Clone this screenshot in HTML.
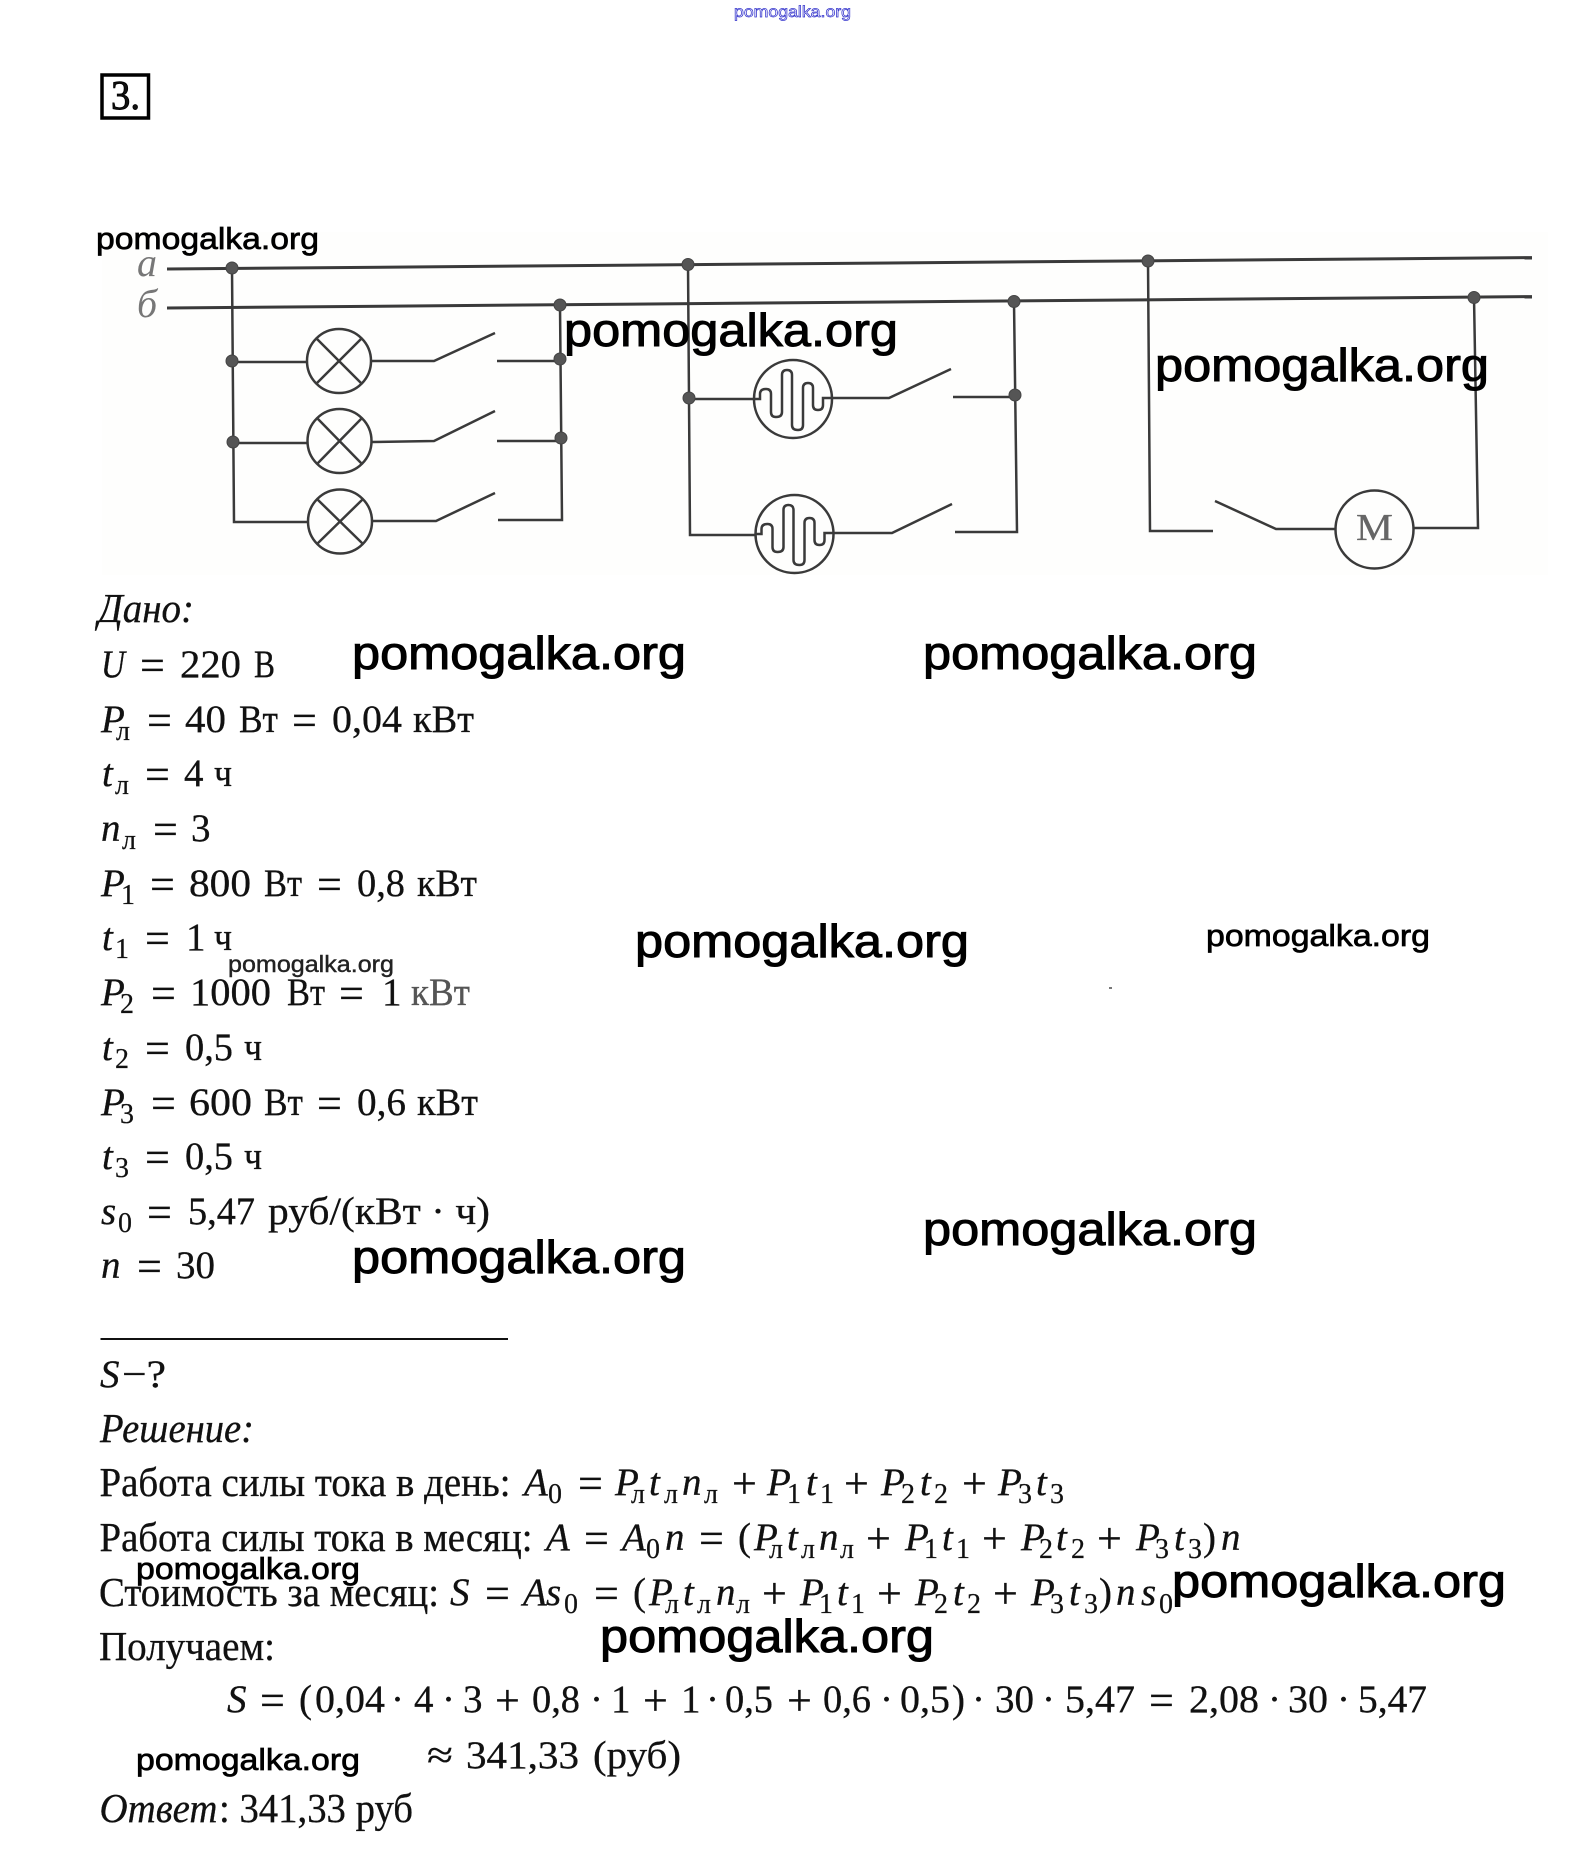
<!DOCTYPE html>
<html lang="ru"><head><meta charset="utf-8"><title>Задача 3</title>
<style>
html,body{margin:0;padding:0;background:#fff;width:1582px;height:1869px;overflow:hidden}
svg{display:block}
text{font-family:"Liberation Serif",serif;font-size:39px;fill:#111;stroke:#111;stroke-width:.3px}
.i{font-style:italic}
.s{font-size:28px;stroke-width:.2px}
.o{font-size:44px}
.t{font-size:41px}
.w{font-family:"Liberation Sans",sans-serif;font-size:46px;fill:#000;stroke:#000;stroke-width:1px}
.w2{font-size:31px;stroke-width:.7px}
.w3{font-size:23px;fill:#222;stroke:#222;stroke-width:.4px}
.w4{font-size:16px;fill:#fff;stroke:#33c;stroke-width:.7px}
.c{fill:none;stroke:#3a3a3a;stroke-width:2.5}
.n{fill:#555;stroke:#444;stroke-width:1}
.l{fill:#777;stroke:none;font-size:40px;font-style:italic}
</style></head><body>
<svg xmlns="http://www.w3.org/2000/svg" width="1582" height="1869" viewBox="0 0 1582 1869">
<rect width="1582" height="1869" fill="#fff"/>
<rect x="102" y="232" width="1446" height="343" fill="#fefefd"/>

<!-- box -->
<rect x="102" y="75" width="46.5" height="43" fill="none" stroke="#000" stroke-width="3.5"/>
<text x="111" y="109" style="font-size:41px;stroke-width:.9px;stroke:#000" textLength="29" lengthAdjust="spacingAndGlyphs">3.</text>

<!-- circuit -->
<text class="l" x="137" y="276">a</text>
<text class="l" x="137" y="317">б</text>
<g class="c">
<path d="M167 269L1532 257.6" stroke-width="3"/>
<path d="M167 308L1532 296.6" stroke-width="3"/>
<path d="M232 268L234 522H308"/>
<path d="M232 362H307M233 443H307"/>
<path d="M560 305L562 520H498M497 361H560M497 441H561"/>
<path d="M372 361H434L495 333M372 442L434 441L495 411M373 521H436L495 493"/>
<path d="M688 264L690 535H755M689 399H754"/>
<path d="M1014 302L1017 532H955M953 397H1015"/>
<path d="M832 398H889L951 369M834 533H892L952 504"/>
<path d="M1148 261L1150 531H1213M1215 501L1276 529H1336M1413 528H1478L1474 297"/>
<circle cx="339" cy="361" r="32"/><path d="M316 338L362 384M362 338L316 384"/>
<circle cx="339.5" cy="441" r="32"/><path d="M317 418L362 464M362 418L317 464"/>
<circle cx="340" cy="521.5" r="32"/><path d="M317 499L363 544M363 499L317 544"/>
<circle cx="793" cy="399" r="39"/>
<path id="h" d="M754 399H760V394Q760 389 766 389Q771 389 771 394V412Q771 417 776 417Q782 417 782 412V375Q782 370 787 370Q792 370 792 375V425Q792 430 798 430Q803 430 803 425V388Q803 383 808 383Q813 383 813 388V405Q813 410 818 410Q823 410 823 405V398H832"/>
<circle cx="794.5" cy="534" r="39"/>
<path d="M755.5 534H761.5V529Q761.5 524 767.5 524Q772.5 524 772.5 529V547Q772.5 552 777.5 552Q783.5 552 783.5 547V510Q783.5 505 788.5 505Q793.5 505 793.5 510V560Q793.5 565 799.5 565Q804.5 565 804.5 560V523Q804.5 518 809.5 518Q814.5 518 814.5 523V540Q814.5 545 819.5 545Q824.5 545 824.5 540V533H833.5"/>
<circle cx="1374.5" cy="529.5" r="39"/>
</g>
<text x="1356" y="540" style="font-size:38px;fill:#666;stroke:#666" textLength="37" lengthAdjust="spacingAndGlyphs">M</text>
<g class="n">
<circle cx="232" cy="268" r="6"/><circle cx="688" cy="264.5" r="6"/><circle cx="1148" cy="261" r="6"/>
<circle cx="560" cy="305" r="6"/><circle cx="1014" cy="301.5" r="6"/><circle cx="1474" cy="297.5" r="6"/>
<circle cx="232" cy="361" r="6"/><circle cx="233" cy="442" r="6"/><circle cx="560" cy="359" r="6"/><circle cx="561" cy="438" r="6"/>
<circle cx="689" cy="398" r="6"/><circle cx="1015" cy="395" r="6"/>
</g>

<!-- Дано -->
<text class="i t" x="98" y="622" textLength="96" lengthAdjust="spacingAndGlyphs">Дано:</text>

<text class="i" x="101" y="677" textLength="24" lengthAdjust="spacingAndGlyphs">U</text><text class="o" x="140" y="680">=</text><text x="180" y="677" textLength="61" lengthAdjust="spacingAndGlyphs">220</text><text x="254" y="677" textLength="21" lengthAdjust="spacingAndGlyphs">В</text>

<text class="i" x="101" y="732">P</text><text class="s" x="116" y="740">л</text><text class="o" x="147" y="735">=</text><text x="185" y="732" textLength="41" lengthAdjust="spacingAndGlyphs">40</text><text x="239" y="732" textLength="39" lengthAdjust="spacingAndGlyphs">Вт</text><text class="o" x="292" y="735">=</text><text x="332" y="732" textLength="70" lengthAdjust="spacingAndGlyphs">0,04</text><text x="413" y="732" textLength="61" lengthAdjust="spacingAndGlyphs">кВт</text>

<text class="i" x="102" y="786">t</text><text class="s" x="115" y="794">л</text><text class="o" x="145" y="789">=</text><text x="184" y="786">4</text><text x="214" y="786" textLength="18" lengthAdjust="spacingAndGlyphs">ч</text>

<text class="i" x="101" y="841">n</text><text class="s" x="122" y="849">л</text><text class="o" x="153" y="844">=</text><text x="191" y="841">3</text>

<text class="i" x="101" y="896">P</text><text class="s" x="121" y="904">1</text><text class="o" x="150" y="899">=</text><text x="189" y="896" textLength="62" lengthAdjust="spacingAndGlyphs">800</text><text x="264" y="896" textLength="38" lengthAdjust="spacingAndGlyphs">Вт</text><text class="o" x="317" y="899">=</text><text x="357" y="896" textLength="48" lengthAdjust="spacingAndGlyphs">0,8</text><text x="417" y="896" textLength="60" lengthAdjust="spacingAndGlyphs">кВт</text>

<text class="i" x="102" y="950">t</text><text class="s" x="115" y="958">1</text><text class="o" x="145" y="953">=</text><text x="186" y="950">1</text><text x="214" y="950" textLength="18" lengthAdjust="spacingAndGlyphs">ч</text>

<text class="i" x="101" y="1005">P</text><text class="s" x="120" y="1013">2</text><text class="o" x="151" y="1008">=</text><text x="190" y="1005" textLength="81" lengthAdjust="spacingAndGlyphs">1000</text><text x="287" y="1005" textLength="38" lengthAdjust="spacingAndGlyphs">Вт</text><text class="o" x="339" y="1008">=</text><text x="382" y="1005">1</text><text x="411" y="1005" textLength="59" lengthAdjust="spacingAndGlyphs" style="fill:#555;stroke:#555">кВт</text>

<text class="i" x="102" y="1060">t</text><text class="s" x="115" y="1068">2</text><text class="o" x="145" y="1063">=</text><text x="185" y="1060" textLength="48" lengthAdjust="spacingAndGlyphs">0,5</text><text x="244" y="1060" textLength="18" lengthAdjust="spacingAndGlyphs">ч</text>

<text class="i" x="101" y="1115">P</text><text class="s" x="120" y="1123">3</text><text class="o" x="151" y="1118">=</text><text x="189" y="1115" textLength="63" lengthAdjust="spacingAndGlyphs">600</text><text x="264" y="1115" textLength="39" lengthAdjust="spacingAndGlyphs">Вт</text><text class="o" x="317" y="1118">=</text><text x="357" y="1115" textLength="49" lengthAdjust="spacingAndGlyphs">0,6</text><text x="417" y="1115" textLength="61" lengthAdjust="spacingAndGlyphs">кВт</text>

<text class="i" x="102" y="1169">t</text><text class="s" x="115" y="1177">3</text><text class="o" x="145" y="1172">=</text><text x="185" y="1169" textLength="48" lengthAdjust="spacingAndGlyphs">0,5</text><text x="244" y="1169" textLength="18" lengthAdjust="spacingAndGlyphs">ч</text>

<text class="i" x="101" y="1224">s</text><text class="s" x="118" y="1232">0</text><text class="o" x="147" y="1227">=</text><text x="188" y="1224" textLength="67" lengthAdjust="spacingAndGlyphs">5,47</text><text x="268" y="1224" textLength="222" lengthAdjust="spacingAndGlyphs">руб/(кВт · ч)</text>

<text class="i" x="101" y="1278">n</text><text class="o" x="137" y="1281">=</text><text x="176" y="1278" textLength="39" lengthAdjust="spacingAndGlyphs">30</text>

<rect x="100.5" y="1338" width="407.5" height="2" fill="#111"/>

<text class="i" x="100" y="1387">S</text><text x="122" y="1387" textLength="44" lengthAdjust="spacingAndGlyphs">−?</text>
<text class="i t" x="100" y="1442" textLength="154" lengthAdjust="spacingAndGlyphs">Решение:</text>

<!-- line 1 -->
<text class="t" x="99.5" y="1496" textLength="411" lengthAdjust="spacingAndGlyphs">Работа силы тока в день:</text>
<text class="i" x="524" y="1495">A</text><text class="s" x="548" y="1503">0</text><text class="o" x="578" y="1498">=</text>
<text class="i" x="615" y="1495">P</text><text class="s" x="631" y="1503">л</text><text class="i" x="649" y="1495">t</text><text class="s" x="664" y="1503">л</text><text class="i" x="682" y="1495">n</text><text class="s" x="704" y="1503">л</text><text class="o" x="732" y="1498">+</text>
<text class="i" x="767" y="1495">P</text><text class="s" x="787" y="1503">1</text><text class="i" x="806" y="1495">t</text><text class="s" x="820" y="1503">1</text><text class="o" x="844" y="1498">+</text>
<text class="i" x="881" y="1495">P</text><text class="s" x="901" y="1503">2</text><text class="i" x="920" y="1495">t</text><text class="s" x="934" y="1503">2</text><text class="o" x="962" y="1498">+</text>
<text class="i" x="998" y="1495">P</text><text class="s" x="1018" y="1503">3</text><text class="i" x="1036" y="1495">t</text><text class="s" x="1050" y="1503">3</text>

<!-- line 2 -->
<text class="t" x="99.5" y="1551" textLength="433" lengthAdjust="spacingAndGlyphs">Работа силы тока в месяц:</text>
<text class="i" x="546" y="1550">A</text><text class="o" x="584" y="1553">=</text><text class="i" x="622" y="1550">A</text><text class="s" x="646" y="1558">0</text><text class="i" x="665" y="1550">n</text><text class="o" x="699" y="1553">=</text><text x="738" y="1550">(</text>
<text class="i" x="754" y="1550">P</text><text class="s" x="769" y="1558">л</text><text class="i" x="787" y="1550">t</text><text class="s" x="801" y="1558">л</text><text class="i" x="819" y="1550">n</text><text class="s" x="840" y="1558">л</text><text class="o" x="866" y="1553">+</text>
<text class="i" x="905" y="1550">P</text><text class="s" x="924" y="1558">1</text><text class="i" x="942" y="1550">t</text><text class="s" x="956" y="1558">1</text><text class="o" x="982" y="1553">+</text>
<text class="i" x="1021" y="1550">P</text><text class="s" x="1039" y="1558">2</text><text class="i" x="1056" y="1550">t</text><text class="s" x="1071" y="1558">2</text><text class="o" x="1097" y="1553">+</text>
<text class="i" x="1136" y="1550">P</text><text class="s" x="1155" y="1558">3</text><text class="i" x="1174" y="1550">t</text><text class="s" x="1188" y="1558">3</text><text x="1203" y="1550">)</text><text class="i" x="1221" y="1550">n</text>

<!-- line 3 -->
<text class="t" x="99" y="1606" textLength="340" lengthAdjust="spacingAndGlyphs">Стоимость за месяц:</text>
<text class="i" x="450" y="1605">S</text><text class="o" x="485" y="1608">=</text><text class="i" x="523" y="1605">A</text><text class="i" x="546" y="1605">s</text><text class="s" x="564" y="1613">0</text><text class="o" x="594" y="1608">=</text><text x="633" y="1605">(</text>
<text class="i" x="649" y="1605">P</text><text class="s" x="665" y="1613">л</text><text class="i" x="683" y="1605">t</text><text class="s" x="697" y="1613">л</text><text class="i" x="716" y="1605">n</text><text class="s" x="736" y="1613">л</text><text class="o" x="762" y="1608">+</text>
<text class="i" x="800" y="1605">P</text><text class="s" x="819" y="1613">1</text><text class="i" x="837" y="1605">t</text><text class="s" x="851" y="1613">1</text><text class="o" x="877" y="1608">+</text>
<text class="i" x="915" y="1605">P</text><text class="s" x="934" y="1613">2</text><text class="i" x="953" y="1605">t</text><text class="s" x="967" y="1613">2</text><text class="o" x="993" y="1608">+</text>
<text class="i" x="1031" y="1605">P</text><text class="s" x="1050" y="1613">3</text><text class="i" x="1069" y="1605">t</text><text class="s" x="1084" y="1613">3</text><text x="1099" y="1605">)</text><text class="i" x="1116" y="1605">n</text><text class="i" x="1141" y="1605">s</text><text class="s" x="1159" y="1613">0</text>

<text class="t" x="99" y="1660" textLength="176" lengthAdjust="spacingAndGlyphs">Получаем:</text>

<!-- calc -->
<text class="i" x="227" y="1712">S</text><text class="o" x="260" y="1715">=</text><text x="299" y="1712">(</text>
<text x="315" y="1712" textLength="70" lengthAdjust="spacingAndGlyphs">0,04</text><text x="391" y="1712">·</text><text x="414" y="1712">4</text><text x="442" y="1712">·</text><text x="463" y="1712">3</text><text class="o" x="495" y="1715">+</text>
<text x="532" y="1712" textLength="48" lengthAdjust="spacingAndGlyphs">0,8</text><text x="590" y="1712">·</text><text x="611" y="1712">1</text><text class="o" x="643" y="1715">+</text><text x="681" y="1712">1</text><text x="706" y="1712">·</text>
<text x="725" y="1712" textLength="48" lengthAdjust="spacingAndGlyphs">0,5</text><text class="o" x="787" y="1715">+</text><text x="823" y="1712" textLength="48" lengthAdjust="spacingAndGlyphs">0,6</text><text x="880" y="1712">·</text>
<text x="900" y="1712" textLength="50" lengthAdjust="spacingAndGlyphs">0,5</text><text x="952" y="1712">)</text><text x="972" y="1712">·</text><text x="995" y="1712" textLength="39" lengthAdjust="spacingAndGlyphs">30</text><text x="1042" y="1712">·</text>
<text x="1065" y="1712" textLength="70" lengthAdjust="spacingAndGlyphs">5,47</text><text class="o" x="1149" y="1715">=</text><text x="1189" y="1712" textLength="70" lengthAdjust="spacingAndGlyphs">2,08</text><text x="1268" y="1712">·</text><text x="1288" y="1712" textLength="40" lengthAdjust="spacingAndGlyphs">30</text><text x="1337" y="1712">·</text><text x="1358" y="1712" textLength="69" lengthAdjust="spacingAndGlyphs">5,47</text>

<text x="427" y="1768" textLength="26" lengthAdjust="spacingAndGlyphs">≈</text><text x="466" y="1768" textLength="113" lengthAdjust="spacingAndGlyphs">341,33</text><text x="593" y="1768" textLength="88" lengthAdjust="spacingAndGlyphs">(руб)</text>

<text class="i t" x="99.5" y="1822" textLength="118" lengthAdjust="spacingAndGlyphs">Ответ</text><text class="t" x="219" y="1822" textLength="194" lengthAdjust="spacingAndGlyphs">: 341,33 руб</text>

<!-- watermarks -->
<text class="w w4" x="734" y="17" textLength="117" lengthAdjust="spacingAndGlyphs">pomogalka.org</text>
<text class="w w2" x="96" y="249" textLength="223" lengthAdjust="spacingAndGlyphs">pomogalka.org</text>
<text class="w" x="564" y="346" textLength="334" lengthAdjust="spacingAndGlyphs">pomogalka.org</text>
<text class="w" x="1155" y="381" textLength="334" lengthAdjust="spacingAndGlyphs">pomogalka.org</text>
<text class="w" x="352" y="669" textLength="334" lengthAdjust="spacingAndGlyphs">pomogalka.org</text>
<text class="w" x="923" y="669" textLength="334" lengthAdjust="spacingAndGlyphs">pomogalka.org</text>
<text class="w" x="635" y="957" textLength="334" lengthAdjust="spacingAndGlyphs">pomogalka.org</text>
<text class="w w2" x="1206" y="946" textLength="224" lengthAdjust="spacingAndGlyphs">pomogalka.org</text>
<text class="w w3" x="228" y="972" textLength="166" lengthAdjust="spacingAndGlyphs">pomogalka.org</text>
<text class="w" x="352" y="1273" textLength="334" lengthAdjust="spacingAndGlyphs">pomogalka.org</text>
<text class="w" x="923" y="1245" textLength="334" lengthAdjust="spacingAndGlyphs">pomogalka.org</text>
<text class="w w2" x="136" y="1579" textLength="224" lengthAdjust="spacingAndGlyphs">pomogalka.org</text>
<text class="w" x="1172" y="1597" textLength="334" lengthAdjust="spacingAndGlyphs">pomogalka.org</text>
<text class="w" x="600" y="1652" textLength="334" lengthAdjust="spacingAndGlyphs">pomogalka.org</text>
<text class="w w2" x="136" y="1770" textLength="224" lengthAdjust="spacingAndGlyphs">pomogalka.org</text>
<rect x="1109" y="987" width="3" height="2" fill="#777"/>
</svg>
</body></html>
